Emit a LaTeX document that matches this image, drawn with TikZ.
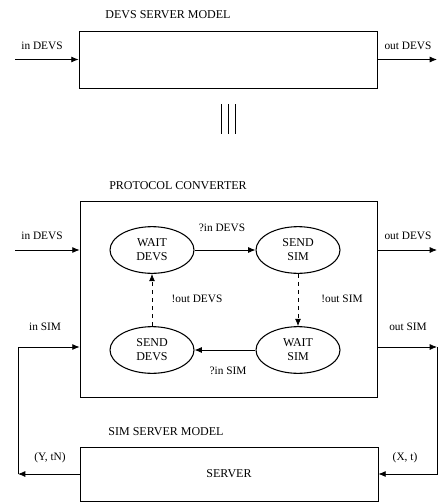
\documentclass[tikz,border=0pt]{standalone}
\usepackage{fontspec}
\setmainfont{Liberation Serif}
\usetikzlibrary{arrows.meta,positioning,shapes.geometric}

\begin{document}
\begin{tikzpicture}[
    x=0.75pt, y=-0.75pt,
    >={Latex[length=5.5pt,width=4.5pt]},
    font=\fontsize{9}{10.5}\selectfont,
    line width=0.6pt,
    model/.style={
      rectangle, draw, inner sep=0pt
    },
    state/.style={
      ellipse, draw, line width=0.8pt, inner sep=0pt,
      minimum width=63pt, minimum height=35pt,
      align=center
    },
    title/.style={font=\fontsize{9}{10.5}\selectfont},
    port/.style={font=\fontsize{8.5}{10}\selectfont},
    arr/.style={->},
    darr/.style={->, dashed}
  ]
  \useasboundingbox (0,0) rectangle (446,503);

  % DEVS server model
  \node[model, minimum width=223.5pt, minimum height=42.75pt] (devs) at (228,59.5) {};
  \node[title] (devsT) at (168,15) {DEVS SERVER MODEL};
  \coordinate (inD) at (15,59.5);
  \coordinate (outD) at (437,59.5);
  \draw[arr] (inD) -- (devs.west);
  \draw[arr] (devs.east) -- (outD);
  \node[port] (inDL) at (42,46) {in DEVS};
  \node[port] (outDL) at (408,46) {out DEVS};

  % equivalence
  \draw (221,104) -- (221,134);
  \draw (228,104) -- (228,134);
  \draw (235,104) -- (235,134);

  % Protocol converter
  \node[model, minimum width=222.75pt, minimum height=147pt] (conv) at (228.5,299) {};
  \node[title] (convT) at (178,186) {PROTOCOL CONVERTER};

  \node[state] (waitdevs) at (152,250) {WAIT\\DEVS};
  \node[state] (sendsim) at (298,250) {SEND\\SIM};
  \node[state] (senddevs) at (152,350) {SEND\\DEVS};
  \node[state] (waitsim) at (298,350) {WAIT\\SIM};

  \draw[arr] (waitdevs) -- (sendsim);
  \draw[darr] (sendsim) -- (waitsim);
  \draw[arr] (waitsim) -- (senddevs);
  \draw[darr] (senddevs) -- (waitdevs);

  \node[port] (t1) at (222,228) {?in DEVS};
  \node[port] (t2) at (342,299) {!out SIM};
  \node[port] (t3) at (228,371) {?in SIM};
  \node[port] (t4) at (197,299) {!out DEVS};

  % converter ports
  \coordinate (cinD) at (15,250);
  \coordinate (coutD) at (437,250);
  \coordinate (cinS) at (conv.west |- 0,347);
  \coordinate (coutS) at (conv.east |- 0,347);
  \draw[arr] (cinD) -- (conv.west |- cinD);
  \draw[arr] (conv.east |- coutD) -- (coutD);
  \node[port] (cinDL) at (42,236) {in DEVS};
  \node[port] (coutDL) at (408,236) {out DEVS};
  \node[port] (cinSL) at (45,327) {in SIM};
  \node[port] (coutSL) at (408,327) {out SIM};

  % SIM server model
  \node[model, minimum width=223.5pt, minimum height=40.5pt] (server) at (229,474) {SERVER};
  \node[title] (serverT) at (166,432) {SIM SERVER MODEL};
  \node[port] (yout) at (50,458) {(Y, tN)};
  \node[port] (xin) at (405,458) {(X, t)};

  % loops
  \coordinate (lc) at (18,474);
  \coordinate (rc) at (437,347);
  \draw[arr] (server.west) -- (lc);
  \draw[arr] (lc) |- (cinS);
  \draw[arr] (coutS) -- (rc);
  \draw[arr] (rc) |- (server.east);
\end{tikzpicture}
\end{document}
